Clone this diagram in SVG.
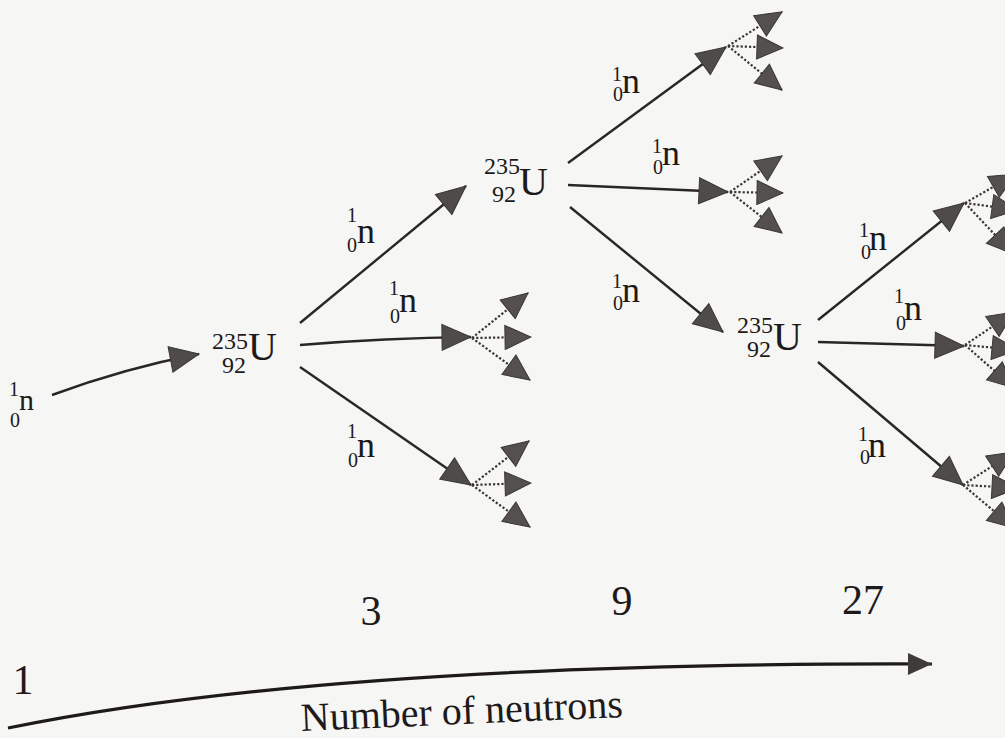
<svg xmlns="http://www.w3.org/2000/svg" width="1005" height="738" viewBox="0 0 1005 738">
<defs>
<style>
.u{font-size:40px}
.iso{font-size:24px}
.n{font-size:36px}
.ns{font-size:20px}
.num{font-size:42px}
.ax{font-size:40px}
.a{fill:none;stroke:#2a2626;stroke-width:2.4;marker-end:url(#ah)}
.d{fill:none;stroke:#3a3636;stroke-width:2.2;stroke-dasharray:2.2 2;marker-end:url(#fh)}
</style>
<marker id="ah" markerUnits="userSpaceOnUse" markerWidth="31" markerHeight="28" viewBox="0 0 31 28" refX="30" refY="14" orient="auto"><path d="M1,1 L30,14 L1,27 z" fill="#4f4b4b" stroke="#3a3636" stroke-width="1"/></marker>
<marker id="fh" markerUnits="userSpaceOnUse" markerWidth="28" markerHeight="26" viewBox="0 0 28 26" refX="27" refY="13" orient="auto"><path d="M1,1 L27,13 L1,25 z" fill="#555050" stroke="#3a3636" stroke-width="1"/></marker>
<marker id="axh" markerUnits="userSpaceOnUse" markerWidth="26" markerHeight="24" viewBox="0 0 26 24" refX="25" refY="12" orient="auto"><path d="M1,1 L25,12 L1,23 z" fill="#3f3b3b"/></marker>
</defs>
<rect width="1005" height="738" fill="#f6f6f4"/>

<g id="connectors">
<path class="a" d="M52,395 Q125,368 199,354"/>
<line class="a" x1="300" y1="323" x2="466" y2="186"/>
<path class="a" d="M300,345 Q385,338 471,337"/>
<line class="a" x1="300" y1="367" x2="471" y2="485"/>
<line class="a" x1="568" y1="163" x2="726" y2="47"/>
<line class="a" x1="568" y1="185" x2="728" y2="192"/>
<line class="a" x1="570" y1="207" x2="723" y2="332"/>
<line class="a" x1="818" y1="320" x2="964" y2="203"/>
<line class="a" x1="818" y1="342" x2="964" y2="346"/>
<line class="a" x1="818" y1="362" x2="963" y2="485"/>
<path d="M8,728 Q330,662 932,664" fill="none" stroke="#1e1a1a" stroke-width="3.2" marker-end="url(#axh)"/>
</g>

<g id="fragments-1">
<line class="d" x1="472" y1="338" x2="528" y2="293"/>
<line class="d" x1="472" y1="338" x2="531" y2="337"/>
<line class="d" x1="472" y1="338" x2="530" y2="380"/>
</g>
<g id="fragments-2">
<line class="d" x1="472" y1="485" x2="529" y2="441"/>
<line class="d" x1="472" y1="485" x2="531" y2="483"/>
<line class="d" x1="472" y1="485" x2="530" y2="527"/>
</g>
<g id="fragments-3">
<line class="d" x1="728" y1="46" x2="782" y2="12"/>
<line class="d" x1="728" y1="46" x2="783" y2="48"/>
<line class="d" x1="728" y1="46" x2="782" y2="90"/>
</g>
<g id="fragments-4">
<line class="d" x1="730" y1="192" x2="782" y2="156"/>
<line class="d" x1="730" y1="192" x2="783" y2="193"/>
<line class="d" x1="730" y1="192" x2="782" y2="233"/>
</g>
<g id="fragments-5">
<line class="d" x1="965" y1="203" x2="1016" y2="174"/>
<line class="d" x1="965" y1="203" x2="1018" y2="210"/>
<line class="d" x1="965" y1="203" x2="1013" y2="254"/>
</g>
<g id="fragments-6">
<line class="d" x1="965" y1="345" x2="1014" y2="312"/>
<line class="d" x1="965" y1="345" x2="1018" y2="350"/>
<line class="d" x1="965" y1="345" x2="1014" y2="388"/>
</g>
<g id="fragments-7">
<line class="d" x1="963" y1="485" x2="1014" y2="452"/>
<line class="d" x1="963" y1="485" x2="1018" y2="488"/>
<line class="d" x1="963" y1="485" x2="1014" y2="528"/>
</g>

<g font-family="Liberation Serif, DejaVu Serif, serif" fill="#1e1a1a">
<g id="neutron-0">
<text class="ns" x="19" y="396" text-anchor="end">1</text>
<text class="ns" x="20" y="427" text-anchor="end">0</text>
<text class="n" x="19" y="410" style="font-size:30px">n</text>
</g>

<g id="U1">
<text class="iso" x="248" y="349" text-anchor="end">235</text>
<text class="iso" x="246" y="373" text-anchor="end">92</text>
<text class="u" x="248" y="360">U</text>
</g>
<g id="U2">
<text class="iso" x="520" y="174" text-anchor="end">235</text>
<text class="iso" x="516" y="202" text-anchor="end">92</text>
<text class="u" x="519" y="195">U</text>
</g>
<g id="U3">
<text class="iso" x="773" y="333" text-anchor="end">235</text>
<text class="iso" x="771" y="357" text-anchor="end">92</text>
<text class="u" x="773" y="350">U</text>
</g>

<g id="labels">
<g id="lbl-1"><text class="ns" x="357" y="222" text-anchor="end">1</text><text class="ns" x="357" y="252" text-anchor="end">0</text><text class="n" x="357" y="243">n</text></g>
<g id="lbl-2"><text class="ns" x="399" y="295" text-anchor="end">1</text><text class="ns" x="400" y="323" text-anchor="end">0</text><text class="n" x="399" y="312">n</text></g>
<g id="lbl-3"><text class="ns" x="357" y="438" text-anchor="end">1</text><text class="ns" x="358" y="467" text-anchor="end">0</text><text class="n" x="357" y="457">n</text></g>
<g id="lbl-4"><text class="ns" x="622" y="81" text-anchor="end">1</text><text class="ns" x="623" y="101" text-anchor="end">0</text><text class="n" x="622" y="93">n</text></g>
<g id="lbl-5"><text class="ns" x="662" y="153" text-anchor="end">1</text><text class="ns" x="663" y="174" text-anchor="end">0</text><text class="n" x="662" y="165">n</text></g>
<g id="lbl-6"><text class="ns" x="622" y="288" text-anchor="end">1</text><text class="ns" x="623" y="310" text-anchor="end">0</text><text class="n" x="622" y="302">n</text></g>
<g id="lbl-7"><text class="ns" x="869" y="237" text-anchor="end">1</text><text class="ns" x="871" y="259" text-anchor="end">0</text><text class="n" x="869" y="250">n</text></g>
<g id="lbl-8"><text class="ns" x="904" y="303" text-anchor="end">1</text><text class="ns" x="906" y="330" text-anchor="end">0</text><text class="n" x="904" y="320">n</text></g>
<g id="lbl-9"><text class="ns" x="868" y="441" text-anchor="end">1</text><text class="ns" x="870" y="464" text-anchor="end">0</text><text class="n" x="868" y="457">n</text></g>
</g>

<g id="axis-labels">
<text class="num" x="23" y="694" text-anchor="middle">1</text>
<text class="num" x="371" y="625" text-anchor="middle">3</text>
<text class="num" x="622" y="615" text-anchor="middle">9</text>
<text class="num" x="863" y="614" text-anchor="middle">27</text>
<text class="ax" x="462" y="724" text-anchor="middle" transform="rotate(-2.5 462 718)">Number of neutrons</text>
</g>
</g>
</svg>
